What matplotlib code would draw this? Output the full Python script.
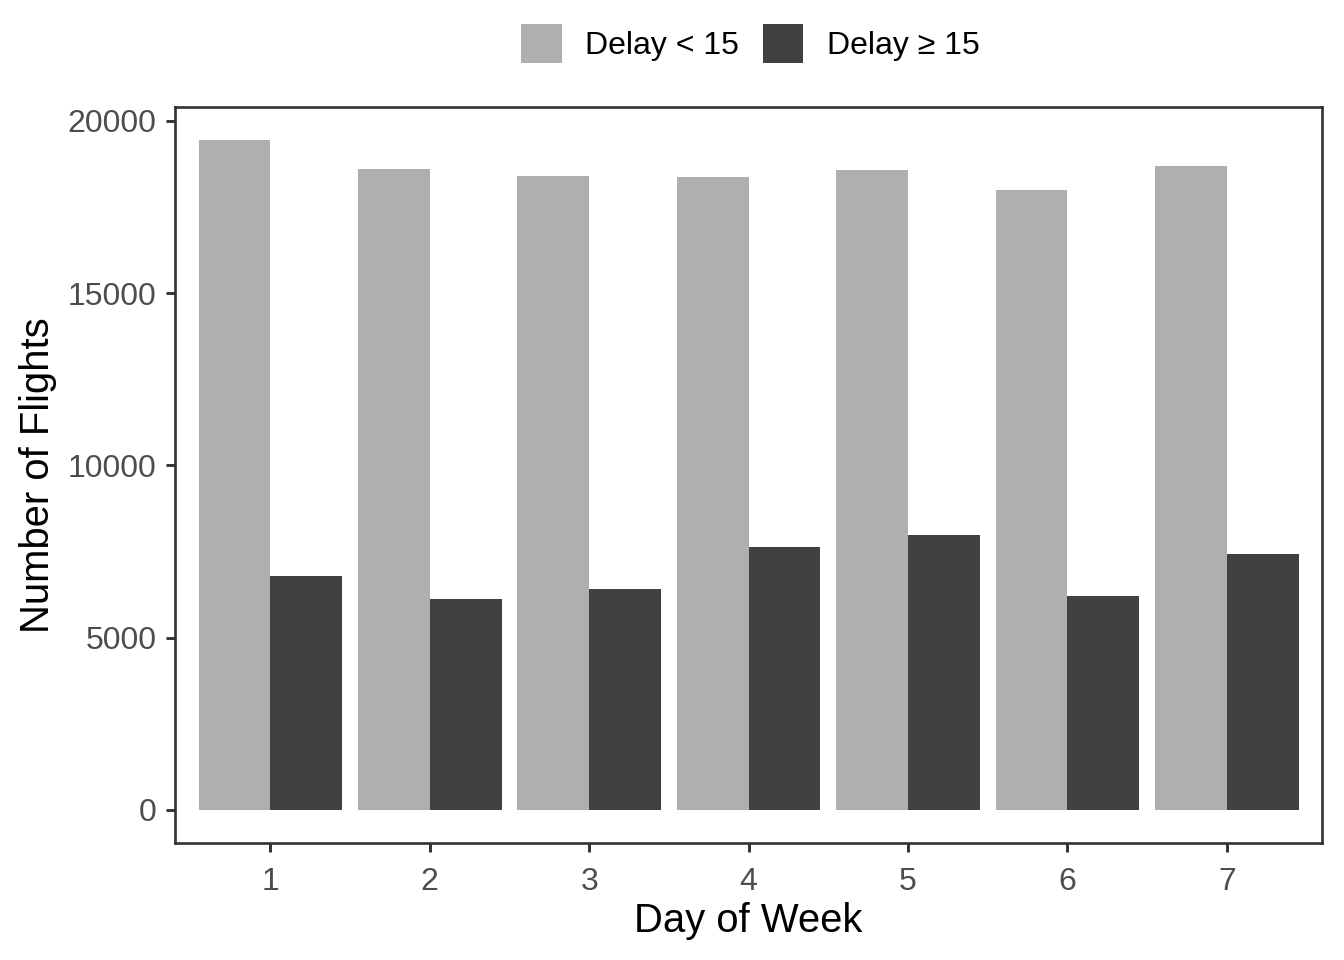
import numpy as np
import matplotlib.pyplot as plt

plt.rcParams['font.family'] = ['Liberation Sans', 'DejaVu Sans']

days = [1, 2, 3, 4, 5, 6, 7]
on_time = [19442, 18604, 18402, 18373, 18575, 17997, 18691]
delayed = [6783, 6118, 6407, 7621, 7968, 6205, 7419]
labels = ['Delay < 15', 'Delay \u2265 15']

light = '#AFAFAF'
dark = '#414141'
w = 0.45

fig = plt.figure(figsize=(7, 5), dpi=192)
ax = fig.add_axes([0.130, 0.1215, 0.854, 0.7675])

x = np.array(days)
ax.bar(x - w / 2, on_time, width=w, color=light, label=labels[0])
ax.bar(x + w / 2, delayed, width=w, color=dark, label=labels[1])

ax.set_xlim(0.4, 7.6)
top = max(on_time) * 1.05
ax.set_ylim(-0.05 * max(on_time), top)
ax.set_xticks(days)
ax.set_yticks([0, 5000, 10000, 15000, 20000])

for s in ax.spines.values():
    s.set_color('#333333')
    s.set_linewidth(1.0)
ax.tick_params(colors='#333333', width=1.1, length=3.3, labelsize=12,
               labelcolor='#4D4D4D')
ax.tick_params(axis='x', pad=5.5)
ax.set_xlabel('Day of Week', fontsize=15, color='black', labelpad=2)
ax.set_ylabel('Number of Flights', fontsize=15, color='black', labelpad=4)

fig.legend(loc='center', bbox_to_anchor=(0.558, 0.955), ncol=2, frameon=False,
           fontsize=12, handlelength=1.28, handleheight=1.5,
           handletextpad=0.72, columnspacing=0.75)

fig.savefig('out.png', dpi=192)
